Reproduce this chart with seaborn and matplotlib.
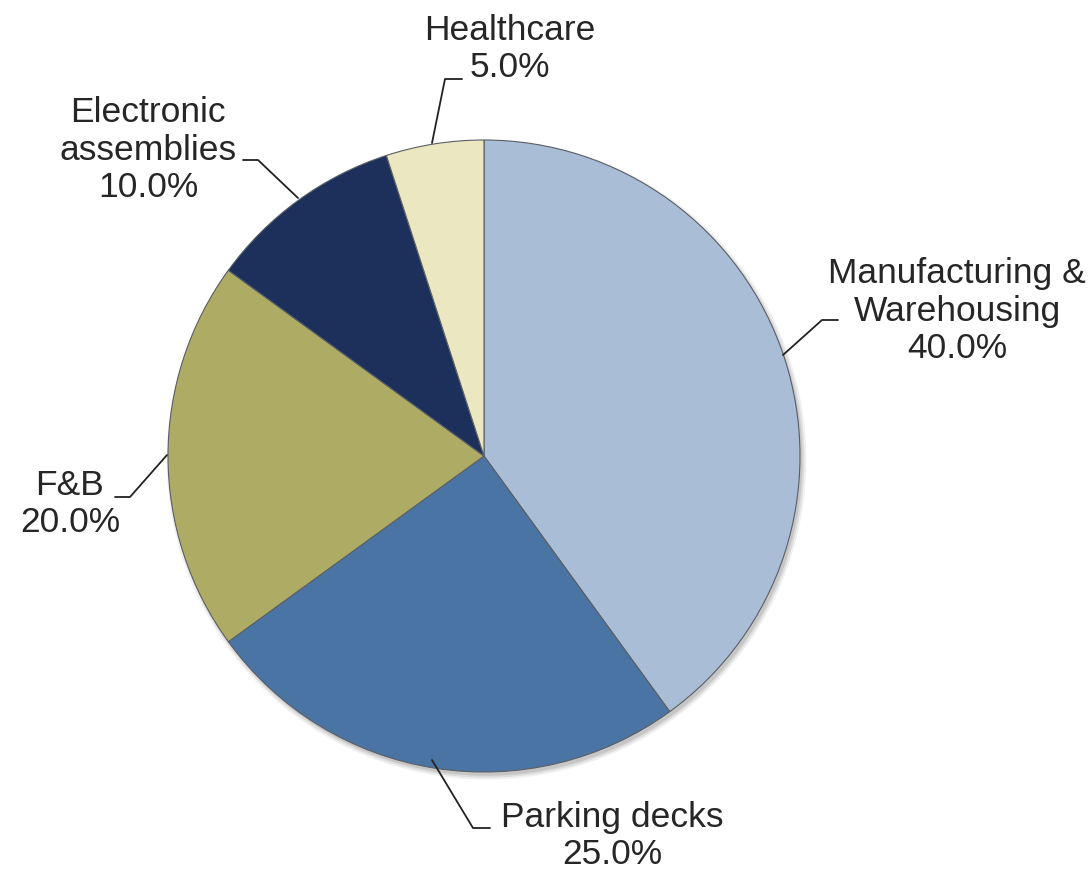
import numpy as np
import seaborn as sns
import matplotlib.pyplot as plt
from matplotlib.patches import Circle

sectors = ["Manufacturing &\nWarehousing", "Parking decks", "F&B",
           "Electronic\nassemblies", "Healthcare"]
shares = [40.0, 25.0, 20.0, 10.0, 5.0]
colors = ["#a9bdd7", "#4a74a3", "#aeab64", "#1d305b", "#ebe7c0"]

sns.set_theme(style="white")
plt.rcParams['font.family'] = ['Liberation Sans', 'DejaVu Sans']

fig = plt.figure(figsize=(10.89, 8.72), dpi=100)
ax = fig.add_axes([0, 0, 1, 1])

# pie centre sits at pixel (484, 456), radius 316 px
cx, cy, R = 484, 456, 316
def px(x, y):
    return (x - cx) / R, (cy - y) / R

# soft shadow under the pie
for i, a in enumerate([0.10, 0.08, 0.06]):
    ax.add_patch(Circle((0.008, -0.012), 1.0 + 0.006 * i, color="black",
                        alpha=a, lw=0, zorder=0))

wedges, _ = ax.pie(shares, colors=colors, startangle=90, counterclock=False,
                   radius=1.0,
                   wedgeprops=dict(edgecolor="#5a5f66", linewidth=0.8))
ax.set_xlim(px(0, 0)[0], px(1089, 0)[0])
ax.set_ylim(px(0, 872)[1], px(0, 0)[1])
ax.set_aspect("auto")
ax.axis("off")

# label block centre and leader line (pixel positions)
layout = [
    ((957, 311), [(783, 355), (822, 320), (838, 320)]),
    ((612, 836), [(432, 760), (473, 828), (490, 828)]),
    ((70, 504), [(167, 455), (130, 497), (115, 497)]),
    ((148, 150), [(298, 198), (258, 160), (243, 160)]),
    ((510, 49), [(432, 143), (445, 79), (462, 79)]),
]

for name, val, (pos, line) in zip(sectors, shares, layout):
    tx, ty = px(*pos)
    ax.text(tx, ty, f"{name}\n{val:.1f}%", ha="center", va="center",
            fontsize=25.5, color="#262626", linespacing=1.18)
    pts = np.array([px(*p) for p in line])
    ax.plot(pts[:, 0], pts[:, 1], color="#222222", lw=1.3)

fig.savefig("out.png", dpi=100)
